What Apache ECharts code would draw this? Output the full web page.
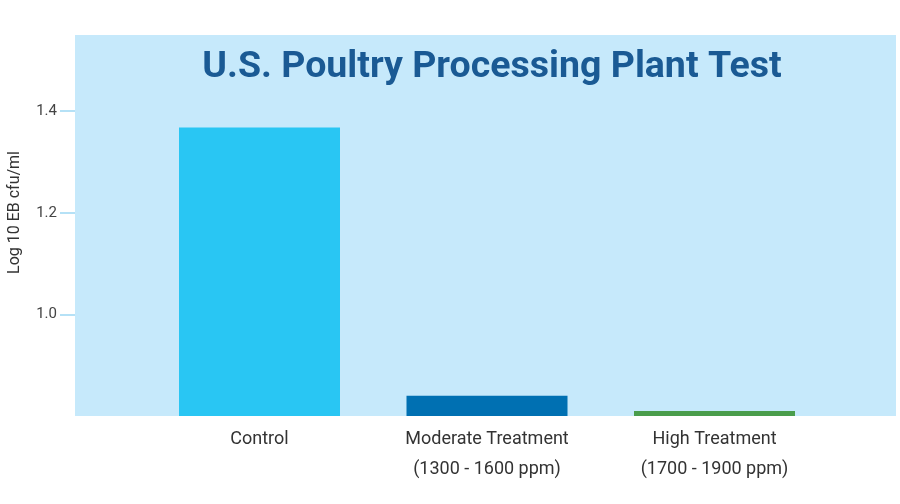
<!DOCTYPE html>
<html><head><meta charset="utf-8">
<script src="https://cdn.jsdelivr.net/npm/echarts@6/dist/echarts.min.js"></script>
<style>html,body{margin:0;padding:0;background:#fff}#c{width:900px;height:504px}</style>
</head><body><div id="c"></div>
<script>
const categories = ['Control', 'Moderate Treatment\n(1300 - 1600 ppm)', 'High Treatment\n(1700 - 1900 ppm)'];
const values = [1.368, 0.84, 0.81];
const barColors = ['#29C6F3', '#0070B2', '#4A9D4C'];
const yTicks = [1.0, 1.2, 1.4];
const titleText = 'U.S. Poultry Processing Plant Test';
const yName = 'Log 10 EB cfu/ml';

const chart = echarts.init(document.getElementById('c'));
chart.setOption({
  animation: false,
  graphic: [{
    type: 'rect', z: -10,
    shape: { x: 75, y: 35, width: 821, height: 381 },
    style: { fill: '#C6E9FB' }
  }],
  title: {
    text: titleText, left: 487, top: 44, textAlign: 'center',
    textStyle: { color: '#1A5A94', fontSize: 37.5, fontWeight: 'bold', fontFamily: 'Roboto' }
  },
  grid: { left: 145.75, right: 71.75, top: 35, bottom: 88, outerBoundsMode: 'none', containLabel: false },
  xAxis: {
    type: 'category', data: categories,
    axisLine: { show: false }, axisTick: { show: false },
    axisLabel: { color: '#333', fontSize: 18, lineHeight: 30, margin: 8, fontFamily: 'Roboto' }
  },
  yAxis: {
    type: 'value', min: 0.8, max: 1.55, interval: 0.2, offset: 70.75,
    name: yName, nameLocation: 'middle', nameGap: 52, nameRotate: 90,
    nameTextStyle: { color: '#333', fontSize: 16, fontFamily: 'Roboto', padding: [0, 0, 0, 26] },
    splitLine: { show: false }, axisLine: { show: false },
    axisTick: { show: true, inside: false, length: 15, lineStyle: { color: '#B5E1F6', width: 2 }, customValues: yTicks },
    axisLabel: { color: '#444', fontSize: 15, margin: 18, fontFamily: 'Roboto', customValues: yTicks, formatter: v => v.toFixed(1) }
  },
  series: [{
    type: 'bar', barWidth: 161,
    data: values.map((v, i) => ({ value: v, itemStyle: { color: barColors[i] } }))
  }]
});
</script></body></html>
